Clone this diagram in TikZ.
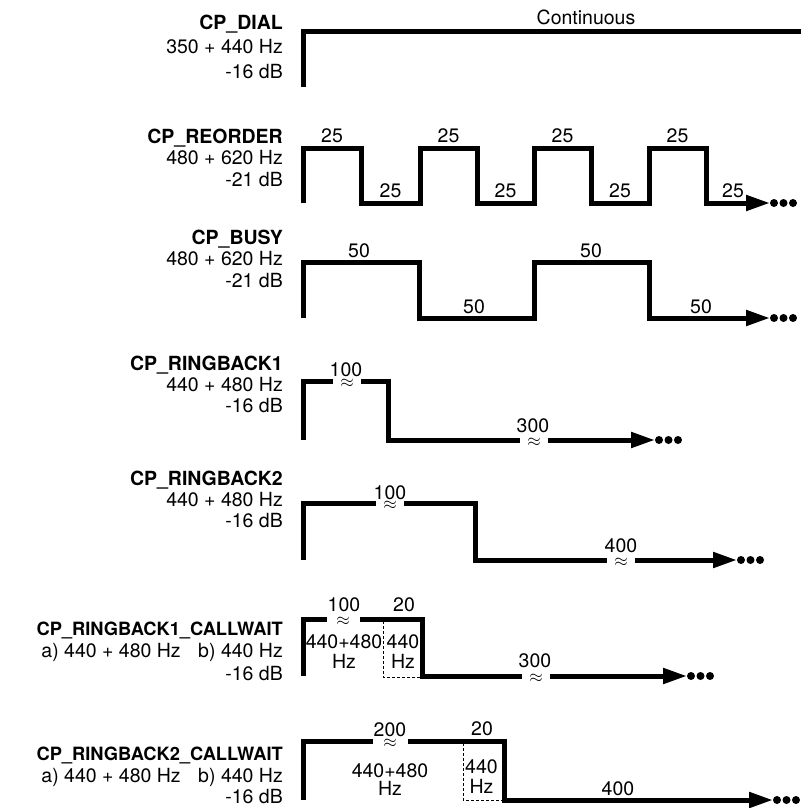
\documentclass[tikz,border=0pt]{standalone}
\usepackage{fontspec}
\setmainfont{TeX Gyre Heros}
\usetikzlibrary{arrows.meta}

\begin{document}
\begin{tikzpicture}[x=1pt,y=-1pt,
  wave/.style={line width=5pt,line join=miter},
  wavearr/.style={wave,-{Triangle[length=24pt,width=15pt]}},
  hint/.style={line width=0.8pt,dash pattern=on 3pt off 2pt},
  tone/.style={anchor=base east,inner sep=0pt,font=\fontsize{19.5}{23}\selectfont\bfseries},
  longtone/.style={tone,font=\fontsize{18.3}{22}\selectfont\bfseries},
  spec/.style={anchor=base east,inner sep=0pt,font=\fontsize{19.5}{23}\selectfont},
  lab/.style={anchor=base,inner sep=0pt,font=\fontsize{19.5}{23}\selectfont},
  brk/.style={fill=white,inner xsep=0pt,inner ysep=0pt,minimum width=28pt,font=\fontsize{16}{16}\selectfont},
  dot/.style={fill}]
  \useasboundingbox (0,0) rectangle (801,808);

  % CP_DIAL
  \node[tone] (dial)   at (283,30) {CP\_DIAL};
  \node[spec] (dial-f) at (283,54) {350 + 440 Hz};
  \node[spec] (dial-l) at (283,78) {-16 dB};
  \draw[wave] (303,87) -- (303,32) -- (801,32);
  \node[lab]  (dial-c) at (586,25) {Continuous};

  % CP_REORDER
  \node[tone] (reorder)   at (283,143) {CP\_REORDER};
  \node[spec] (reorder-f) at (283,164.5) {480 + 620 Hz};
  \node[spec] (reorder-l) at (283,186) {-21 dB};
  \draw[wavearr] (303,203) -- (303,148) -- (361,148) -- (361,203) -- (420,203) -- (420,148) -- (477,148) -- (477,203)
    -- (534,203) -- (534,148) -- (591,148) -- (591,203) -- (649,203) -- (649,148) -- (706,148) -- (706,203) -- (770,203);
  \fill[dot] (774,203) circle (4) (783.5,203) circle (4) (793,203) circle (4);
  \node[lab] (reorder-on1)  at (332,142)   {25};
  \node[lab] (reorder-off1) at (390.5,197) {25};
  \node[lab] (reorder-on2)  at (448.5,142) {25};
  \node[lab] (reorder-off2) at (505.5,197) {25};
  \node[lab] (reorder-on3)  at (562.5,142) {25};
  \node[lab] (reorder-off3) at (620,197)   {25};
  \node[lab] (reorder-on4)  at (677.5,142) {25};
  \node[lab] (reorder-off4) at (733,197)   {25};

  % CP_BUSY
  \node[tone] (busy)   at (283,244) {CP\_BUSY};
  \node[spec] (busy-f) at (283,265.5) {480 + 620 Hz};
  \node[spec] (busy-l) at (283,287) {-21 dB};
  \draw[wavearr] (303,318) -- (303,262) -- (419.5,262) -- (419.5,318) -- (534.5,318) -- (534.5,262) -- (649.5,262)
    -- (649.5,318) -- (770,318);
  \fill[dot] (774,318) circle (4) (783.5,318) circle (4) (793,318) circle (4);
  \node[lab] (busy-on1)  at (359,257) {50};
  \node[lab] (busy-off1) at (474,313) {50};
  \node[lab] (busy-on2)  at (591,257) {50};
  \node[lab] (busy-off2) at (701,313) {50};

  % CP_RINGBACK1
  \node[tone] (rb1)   at (283,370) {CP\_RINGBACK1};
  \node[spec] (rb1-f) at (283,391) {440 + 480 Hz};
  \node[spec] (rb1-l) at (283,412) {-16 dB};
  \draw[wavearr] (303,440) -- (303,381) -- (388,381) -- (388,440) -- (655,440);
  \fill[dot] (659,440) circle (4) (668.5,440) circle (4) (678,440) circle (4);
  \node[brk] (rb1-cut1) at (347,383) {$\approx$};
  \node[brk] (rb1-cut2) at (534,442) {$\approx$};
  \node[lab] (rb1-on)  at (346,376) {100};
  \node[lab] (rb1-off) at (533,432) {300};

  % CP_RINGBACK2
  \node[tone] (rb2)   at (283,485) {CP\_RINGBACK2};
  \node[spec] (rb2-f) at (283,506) {440 + 480 Hz};
  \node[spec] (rb2-l) at (283,527) {-16 dB};
  \draw[wavearr] (303,560) -- (303,503) -- (475.5,503) -- (475.5,560) -- (737,560);
  \fill[dot] (741,560) circle (4) (750.5,560) circle (4) (760,560) circle (4);
  \node[brk] (rb2-cut1) at (390,505) {$\approx$};
  \node[brk] (rb2-cut2) at (621,562) {$\approx$};
  \node[lab] (rb2-on)  at (390,499) {100};
  \node[lab] (rb2-off) at (621,552) {400};

  % CP_RINGBACK1_CALLWAIT
  \node[longtone] (rb1cw) at (283,635) {CP\_RINGBACK1\_CALLWAIT};
  \node[spec] (rb1cw-f) at (283,657) {a) 440 + 480 Hz\hspace{0.9em}b) 440 Hz};
  \node[spec] (rb1cw-l) at (283,680) {-16 dB};
  \draw[hint] (383,621) -- (383,677) -- (422,677);
  \draw[wavearr] (303,676) -- (303,619) -- (422,619) -- (422,676) -- (687,676);
  \fill[dot] (691,676) circle (4) (700.5,676) circle (4) (710,676) circle (4);
  \node[brk,minimum width=33pt] (rb1cw-cut1) at (343,621) {$\approx$};
  \node[brk] (rb1cw-cut2) at (536,678) {$\approx$};
  \node[lab] (rb1cw-on)   at (344,611) {100};
  \node[lab] (rb1cw-wait) at (404,611) {20};
  \node[lab] (rb1cw-a1) at (344,648) {440+480};
  \node[lab] (rb1cw-a2) at (344,668) {Hz};
  \node[lab] (rb1cw-b1) at (403,648) {440};
  \node[lab] (rb1cw-b2) at (403,668) {Hz};
  \node[lab] (rb1cw-off) at (535,667) {300};

  % CP_RINGBACK2_CALLWAIT
  \node[longtone] (rb2cw) at (283,760) {CP\_RINGBACK2\_CALLWAIT};
  \node[spec] (rb2cw-f) at (283,782) {a) 440 + 480 Hz\hspace{0.9em}b) 440 Hz};
  \node[spec] (rb2cw-l) at (283,803) {-16 dB};
  \draw[hint] (463,743) -- (463,800) -- (504.5,800);
  \draw[wavearr] (303,800) -- (303,741) -- (504.5,741) -- (504.5,800) -- (773,800);
  \fill[dot] (777,800) circle (4) (786.5,800) circle (4) (796,800) circle (4);
  \node[brk,minimum width=35pt] (rb2cw-cut) at (390,743) {$\approx$};
  \node[lab] (rb2cw-on)   at (390,736) {200};
  \node[lab] (rb2cw-wait) at (482,735) {20};
  \node[lab] (rb2cw-a1) at (390,777) {440+480};
  \node[lab] (rb2cw-a2) at (390,795) {Hz};
  \node[lab] (rb2cw-b1) at (481.5,773) {440};
  \node[lab] (rb2cw-b2) at (481.5,793) {Hz};
  \node[lab] (rb2cw-off) at (618,795) {400};
\end{tikzpicture}
\end{document}
